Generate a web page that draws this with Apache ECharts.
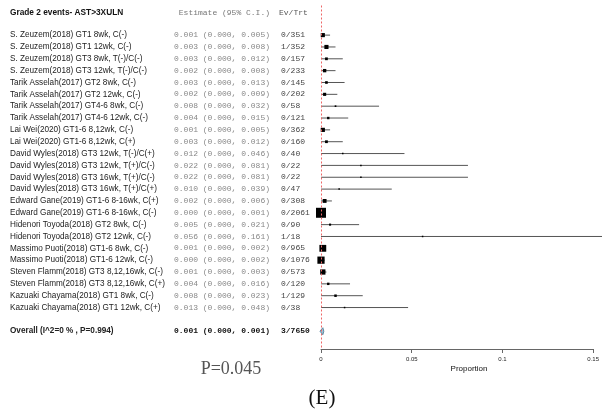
<!DOCTYPE html>
<html><head><meta charset="utf-8">
<script src="https://cdn.jsdelivr.net/npm/echarts@6/dist/echarts.min.js"></script>
<style>html,body{margin:0;padding:0;background:#fff}#c{width:602px;height:414px}</style>
</head><body><div id="c"></div>
<script>
const studies = [
"S. Zeuzem(2018) GT1 8wk, C(-)",
"S. Zeuzem(2018) GT1 12wk, C(-)",
"S. Zeuzem(2018) GT3 8wk, T(-)/C(-)",
"S. Zeuzem(2018) GT3 12wk, T(-)/C(-)",
"Tarik Asselah(2017) GT2 8wk, C(-)",
"Tarik Asselah(2017) GT2 12wk, C(-)",
"Tarik Asselah(2017) GT4-6 8wk, C(-)",
"Tarik Asselah(2017) GT4-6 12wk, C(-)",
"Lai Wei(2020) GT1-6 8,12wk, C(-)",
"Lai Wei(2020) GT1-6 8,12wk, C(+)",
"David Wyles(2018) GT3 12wk, T(-)/C(+)",
"David Wyles(2018) GT3 12wk, T(+)/C(-)",
"David Wyles(2018) GT3 16wk, T(+)/C(-)",
"David Wyles(2018) GT3 16wk, T(+)/C(+)",
"Edward Gane(2019) GT1-6 8-16wk, C(+)",
"Edward Gane(2019) GT1-6 8-16wk, C(-)",
"Hidenori Toyoda(2018) GT2 8wk, C(-)",
"Hidenori Toyoda(2018) GT2 12wk, C(-)",
"Massimo Puoti(2018) GT1-6 8wk, C(-)",
"Massimo Puoti(2018) GT1-6 12wk, C(-)",
"Steven Flamm(2018) GT3 8,12,16wk, C(-)",
"Steven Flamm(2018) GT3 8,12,16wk, C(+)",
"Kazuaki Chayama(2018) GT1 8wk, C(-)",
"Kazuaki Chayama(2018) GT1 12wk, C(+)"
];
const estimates = [0.001,0.003,0.003,0.002,0.003,0.002,0.008,0.004,0.001,0.003,0.012,0.022,0.022,0.010,0.002,0.000,0.005,0.056,0.001,0.000,0.001,0.004,0.008,0.013];
const lowers    = [0,0,0,0,0,0,0,0,0,0,0,0,0,0,0,0,0,0,0,0,0,0,0,0];
const uppers    = [0.005,0.008,0.012,0.008,0.013,0.009,0.032,0.015,0.005,0.012,0.046,0.081,0.081,0.039,0.006,0.001,0.021,0.161,0.002,0.002,0.003,0.016,0.023,0.048];
const events    = [0,1,0,0,0,0,0,0,0,0,0,0,0,0,0,0,0,1,0,0,0,0,1,0];
const totals    = [351,352,157,233,145,202,58,121,362,160,40,22,22,47,308,2061,90,18,965,1076,573,120,129,38];
const overallLabel = "Overall (I^2=0 % , P=0.994)";
const overall = {est:0.001, lo:0.000, hi:0.001, ev:3, n:7650};
const title = "Grade 2 events- AST>3XULN";
const colHeaders = ["Estimate (95% C.I.)", "Ev/Trt"];
const xTicks = [0, 0.05, 0.1, 0.15];
const xName = "Proportion";
const pText = "P=0.045";
const panel = "(E)";

const FIRST = 2, OVR = FIRST + studies.length + 1;
const f3 = v => v.toFixed(3);
const ciText = (e,l,h) => f3(e)+" ("+f3(l)+", "+f3(h)+")";

const ptData = studies.map((s,i)=>[estimates[i], FIRST+i, lowers[i], uppers[i], totals[i]]);
const rows = studies.map((s,i)=>({row:FIRST+i, label:s, ci:ciText(estimates[i],lowers[i],uppers[i]), et:events[i]+"/"+totals[i], bold:false}));
rows.push({row:OVR, label:overallLabel, ci:ciText(overall.est,overall.lo,overall.hi), et:overall.ev+"/"+overall.n, bold:true});

const SANS = '"Liberation Sans", Arial, sans-serif';
const MONO = '"Liberation Mono", "Courier New", monospace';

const chart = echarts.init(document.getElementById('c'), null, {renderer:'canvas'});
chart.setOption({
  animation:false,
  grid:{left:321, width:276, top:5.5, height:343.5},
  xAxis:{type:'value', position:'bottom', min:xTicks[0], max:xTicks[xTicks.length-1], interval:0.05,
    splitLine:{show:false},
    axisLine:{show:true, onZero:false, lineStyle:{color:'#666', width:1}},
    axisTick:{show:true, length:4, lineStyle:{color:'#666'}},
    axisLabel:{fontSize:6, color:'#222', margin:7, fontFamily:SANS}},
  yAxis:{type:'value', inverse:true, min:-0.5, max:OVR+1.5, show:false},
  graphic:[
    {type:'text', x:469, y:369, style:{text:xName, font:'8px '+SANS, fill:'#111', align:'center', verticalAlign:'middle'}},
    {type:'text', x:231, y:369, style:{text:pText, font:'18px "Liberation Serif", "Times New Roman", serif', fill:'#555', align:'center', verticalAlign:'middle'}},
    {type:'text', x:322, y:398, style:{text:panel, font:'21px "Liberation Serif", "Times New Roman", serif', fill:'#111', align:'center', verticalAlign:'middle'}}
  ],
  series:[
    {type:'custom', clip:false, data:rows.map(r=>[0,r.row]),
     encode:{x:0,y:1},
     renderItem:(params, api)=>{
       const r = rows[params.dataIndex];
       const y = api.coord([0, r.row])[1];
       const kids = [];
       if (params.dataIndex===0){
         const hy = api.coord([0,0])[1] + 1;
         kids.push({type:'text', x:10, y:hy, style:{text:title, font:'bold 8.3px '+SANS, fill:'#111', verticalAlign:'middle'}});
         kids.push({type:'text', x:270, y:hy, style:{text:colHeaders[0], font:'8px '+MONO, fill:'#777', align:'right', verticalAlign:'middle'}});
         kids.push({type:'text', x:279, y:hy, style:{text:colHeaders[1], font:'8px '+MONO, fill:'#555', verticalAlign:'middle'}});
       }
       const w = r.bold ? 'bold ' : '';
       kids.push({type:'text', x:10, y:y, style:{text:r.label, font:w+'8.2px '+SANS, fill:'#222', verticalAlign:'middle'}});
       kids.push({type:'text', x:270, y:y, style:{text:r.ci, font:w+'8px '+MONO, fill:r.bold?'#111':'#888', align:'right', verticalAlign:'middle'}});
       kids.push({type:'text', x:281, y:y, style:{text:r.et, font:w+'8px '+MONO, fill:r.bold?'#111':'#444', verticalAlign:'middle'}});
       return {type:'group', children:kids};
     }},
    {type:'custom', clip:false, data:ptData, encode:{x:[0,2,3], y:1},
     renderItem:(params, api)=>{
       const e=api.value(0), row=api.value(1), lo=api.value(2), hi=api.value(3), n=api.value(4);
       const pe = api.coord([e,row]), pl = api.coord([lo,row]), ph = api.coord([hi,row]);
       const s = Math.max(1.5, 0.22*Math.sqrt(n));
       return {type:'group', children:[
         {type:'line', shape:{x1:pl[0], y1:pe[1], x2:ph[0], y2:pe[1]}, style:{stroke:'#555', lineWidth:1}},
         {type:'rect', shape:{x:pe[0]-s/2, y:pe[1]-s/2, width:s, height:s}, style:{fill:'#000'}}
       ]};
     },
     markLine:{silent:true, symbol:'none', label:{show:false},
       lineStyle:{color:'#ee6666', type:[2,2], width:1}, data:[{xAxis:0}]}},
    {type:'custom', clip:false, data:[[overall.est, OVR, overall.lo, overall.hi]], encode:{x:[0,2,3], y:1},
     renderItem:(params, api)=>{
       const row=api.value(1);
       const pl = api.coord([api.value(2),row]), ph = api.coord([api.value(3),row]), pe = api.coord([api.value(0),row]);
       const h = 3.5, xl = pl[0]-1, xr = ph[0]+1;
       return {type:'polygon', shape:{points:[[xl,pe[1]],[pe[0],pe[1]-h],[xr,pe[1]],[pe[0],pe[1]+h]]},
         style:{fill:'#9fc3d6', stroke:'#5b87a0', lineWidth:1}};
     }}
  ]
});
</script></body></html>
